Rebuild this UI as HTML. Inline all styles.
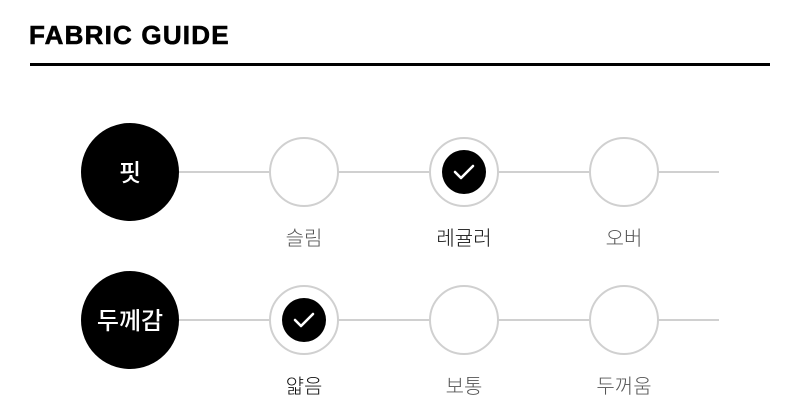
<!DOCTYPE html>
<html><head><meta charset="utf-8"><style>
html,body{margin:0;padding:0;background:#fff;width:800px;height:404px;overflow:hidden}
svg text{font-family:"Liberation Sans","Noto Sans CJK KR",sans-serif}
</style></head><body>
<svg width="800" height="404" xmlns="http://www.w3.org/2000/svg">
<text x="29" y="44" font-size="26" font-weight="bold" fill="#000" letter-spacing="1.2" stroke="#000" stroke-width="0.6">FABRIC GUIDE</text>
<rect x="30" y="63" width="740" height="3" fill="#000"/>
<g stroke="#d0d0d0" stroke-width="2" fill="#fff">
<line x1="170" y1="172" x2="719" y2="172"/>
<line x1="170" y1="320" x2="719" y2="320"/>
<circle cx="304" cy="172" r="34"/><circle cx="464" cy="172" r="34"/><circle cx="624" cy="172" r="34"/>
<circle cx="304" cy="320" r="34"/><circle cx="464" cy="320" r="34"/><circle cx="624" cy="320" r="34"/>
</g>
<circle cx="130" cy="172" r="49" fill="#000"/>
<circle cx="130" cy="320" r="49" fill="#000"/>
<text x="130" y="181" font-size="24" fill="#fff" text-anchor="middle" font-weight="500">핏</text>
<text x="130" y="329" font-size="24" fill="#fff" text-anchor="middle" font-weight="500">두께감</text>
<circle cx="464" cy="172" r="22" fill="#000"/>
<circle cx="304" cy="320" r="22" fill="#000"/>
<polyline points="455,172 461,178 473,166" fill="none" stroke="#fff" stroke-width="2.6" stroke-linecap="round" stroke-linejoin="round"/>
<polyline points="295,320 301,326 313,314" fill="none" stroke="#fff" stroke-width="2.6" stroke-linecap="round" stroke-linejoin="round"/>
<g font-size="20" text-anchor="middle" font-weight="300">
<text x="304" y="245" fill="#555">슬림</text>
<text x="464" y="245" fill="#111">레귤러</text>
<text x="624" y="245" fill="#555">오버</text>
<text x="304" y="393" fill="#111">얇음</text>
<text x="464" y="393" fill="#555">보통</text>
<text x="624" y="393" fill="#555">두꺼움</text>
</g>
</svg>
</body></html>
